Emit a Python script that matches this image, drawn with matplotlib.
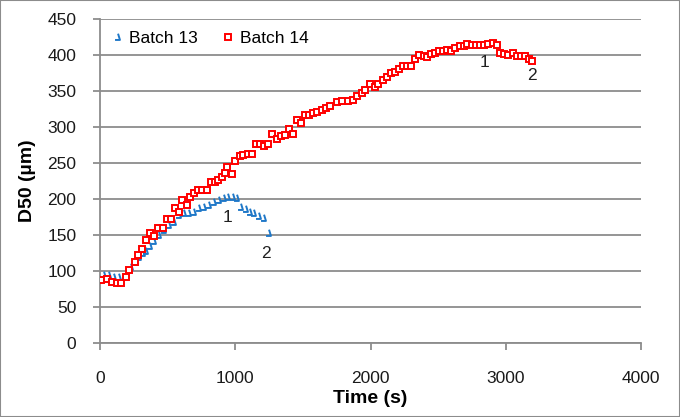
import matplotlib
matplotlib.use("Agg")
import matplotlib.pyplot as plt
from matplotlib.path import Path
import numpy as np

plt.rcParams['font.family'] = ['Liberation Sans', 'DejaVu Sans']

# Batch 13 (blue hooks)
t13 = [24, 62, 98, 130, 160, 190, 222, 259, 283, 307, 333, 362, 394, 431, 468,
       505, 542, 579, 616, 653, 690, 727, 763, 801, 838, 875, 912, 942, 973,
       1005, 1035, 1072, 1104, 1134, 1170, 1207, 1244]
d13 = [95, 94, 92, 91, 92, 98, 105, 113, 119, 125, 128, 134, 141, 150, 157,
       164, 168, 178, 180, 180, 182, 187, 189, 192, 196, 199, 201, 203, 203,
       201, 189, 186, 182, 180, 177, 173, 153]

# Batch 14 (red squares)
t14 = [7, 50, 86, 123, 155, 190, 217, 259, 283, 308, 337, 370, 401, 431, 468,
       493, 525, 555, 584, 609, 641, 665, 695, 727, 757, 789, 818, 850, 875,
       900, 924, 941, 973, 998, 1035, 1060, 1097, 1121, 1153, 1183, 1215, 1245,
       1269, 1306, 1335, 1368, 1397, 1424, 1453, 1483, 1515, 1547, 1577, 1606,
       1639, 1671, 1700, 1750, 1786, 1830, 1870, 1900, 1935, 1959, 1996, 2033,
       2058, 2090, 2119, 2149, 2181, 2213, 2243, 2272, 2300, 2329, 2361, 2391,
       2420, 2445, 2477, 2509, 2538, 2568, 2593, 2625, 2657, 2687, 2716, 2748,
       2780, 2810, 2839, 2871, 2903, 2932, 2957, 2987, 3019, 3051, 3081, 3110,
       3142, 3167, 3191]
d14 = [87, 89, 85, 83, 83, 91, 102, 112, 122, 131, 143, 153, 148, 160, 160,
       172, 172, 187, 182, 198, 192, 203, 208, 213, 213, 213, 223, 224, 226,
       230, 236, 245, 235, 253, 259, 261, 262, 263, 276, 276, 273, 277, 290,
       283, 287, 289, 297, 290, 309, 305, 317, 317, 320, 321, 324, 326, 329,
       334, 336, 336, 337, 343, 347, 352, 360, 356, 360, 365, 370, 375, 377,
       381, 384, 384, 384, 394, 400, 399, 397, 402, 403, 406, 406, 407, 406,
       409, 412, 412, 415, 414, 414, 414, 414, 415, 417, 414, 403, 401, 400,
       403, 399, 399, 398, 395, 391]

# point labels
lab_text = ["1", "2", "1", "2"]
lab_t = [946, 1227, 2839, 3193]
lab_d = [174, 124, 389, 371]

hook = Path([(0.1, 0.7), (0.45, -0.45), (-0.45, -0.45)],
            [Path.MOVETO, Path.LINETO, Path.LINETO])

grid_c = '#8c8c8c'

fig = plt.figure(figsize=(6.8, 4.17), dpi=100)
ax = fig.add_axes([0.147, 0.1775, 0.796, 0.777])

ax.plot(t13, d13, linestyle='none', marker=hook, markersize=5.5,
        markeredgecolor='#1f78c8', markerfacecolor='none', markeredgewidth=1.4,
        label='Batch 13', zorder=3)
ax.plot(t14, d14, linestyle='none', marker='s', markersize=4.6,
        markeredgecolor='#ff0000', markerfacecolor='white', markeredgewidth=1.4,
        label='Batch 14', zorder=4)

for s, x, y in zip(lab_text, lab_t, lab_d):
    ax.text(x, y, s, fontsize=12.5, color='#202020', ha='center', va='center')

ax.set_xlim(0, 4000)
ax.set_ylim(0, 450)
ax.set_xticks(np.arange(0, 4001, 1000))
ax.set_yticks(np.arange(0, 451, 50))
ax.yaxis.grid(True, color=grid_c, linewidth=1.3)
ax.set_axisbelow(True)

for side in ['top', 'right']:
    ax.spines[side].set_visible(False)
for side in ['left', 'bottom']:
    ax.spines[side].set_color(grid_c)
    ax.spines[side].set_linewidth(1.3)

ax.tick_params(axis='both', colors=grid_c, length=5, width=1.3, labelsize=12.5,
               labelcolor='#1a1a1a')
ax.tick_params(axis='x', pad=15)
ax.tick_params(axis='y', pad=12)

ax.set_xlabel('Time (s)', fontsize=14, fontweight='bold', labelpad=3)
ax.set_ylabel('D50 (µm)', fontsize=14, fontweight='bold', labelpad=8)

ax.legend(loc='upper left', frameon=False, ncol=2, fontsize=12.5,
          handlelength=0.6, handletextpad=0.4, columnspacing=1.4,
          bbox_to_anchor=(0.0, 1.0), borderaxespad=0.3)

fig.patches.append(plt.Rectangle((0, 0), 1, 1, transform=fig.transFigure,
                                 fill=False, edgecolor='#8c8c8c', linewidth=1.5))

fig.savefig('out.png', dpi=100)
